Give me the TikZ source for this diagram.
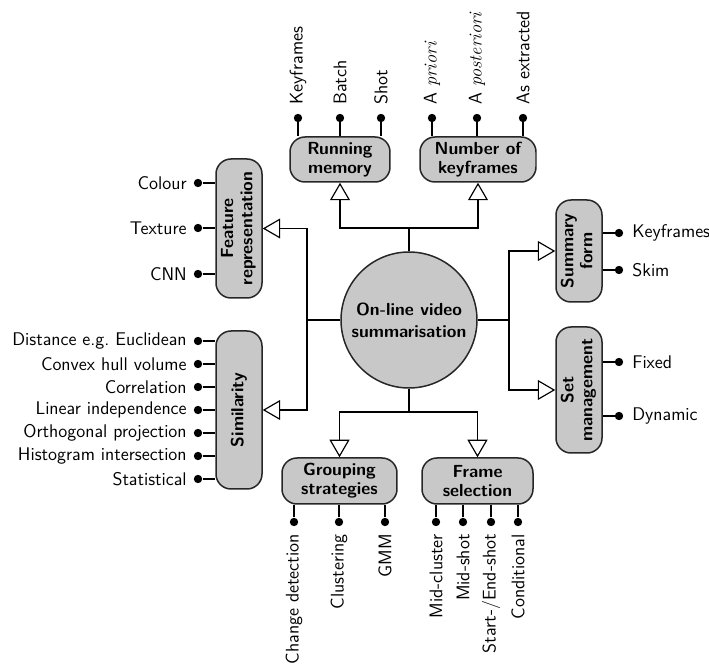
\documentclass[tikz,border=0pt]{standalone}
\usepackage{fontspec}
\usetikzlibrary{arrows.meta,calc}
\definecolor{boxgray}{RGB}{200,200,200}
\begin{document}
\begin{tikzpicture}[x=0.6pt,y=-0.6pt,
  font=\sffamily\fontsize{11}{12}\selectfont,
  box/.style={draw=black!85, line width=0.9pt, fill=boxgray, rounded corners=9pt,
    inner sep=0pt, align=center, font=\sffamily\bfseries\fontsize{10.5}{11.5}\selectfont},
  hub/.style={circle, draw=black!85, line width=0.9pt, fill=boxgray, inner sep=0pt,
    align=center, minimum size=81.6pt, font=\sffamily\bfseries\fontsize{10.5}{13}\selectfont},
  leaf/.style={circle, fill=black, inner sep=0pt, minimum size=5pt},
  wire/.style={line width=0.7pt},
  conn/.style={line width=0.7pt, -{Triangle[open,length=10.5pt,width=12pt,fill=white]}},
  lab/.style={inner sep=0pt}]
\useasboundingbox (0,0) rectangle (709,666);

% hub
\node[hub] (c) at (409,320) {On-line video\\summarisation};

% boxes
\node[box, minimum width=60pt, minimum height=27pt] (rm) at (340,159.5) {Running\\memory};
\node[box, minimum width=69.6pt, minimum height=27pt] (nk) at (478,159.5) {Number of\\keyframes};
\node[box, minimum width=27.6pt, minimum height=83.4pt] (fr) at (239,228.5)
  {\rotatebox{90}{\begin{tabular}{@{}c@{}}Feature\\representation\end{tabular}}};
\node[box, minimum width=27.6pt, minimum height=94.8pt] (sim) at (239,410) {\rotatebox{90}{Similarity}};
\node[box, minimum width=27.6pt, minimum height=61.2pt] (sf) at (579,251)
  {\rotatebox{90}{\begin{tabular}{@{}c@{}}Summary\\form\end{tabular}}};
\node[box, minimum width=27.6pt, minimum height=75.6pt] (sm) at (579,390)
  {\rotatebox{90}{\begin{tabular}{@{}c@{}}Set\\management\end{tabular}}};
\node[box, minimum width=69pt, minimum height=27.6pt] (gs) at (339.5,481) {Grouping\\strategies};
\node[box, minimum width=66.6pt, minimum height=27.6pt] (fs) at (477.5,481) {Frame\\selection};

% connectors from hub
\draw[wire] (c.north) -- (c.north |- 0,228) coordinate (tj);
\draw[conn] (tj) -| (rm.south);
\draw[conn] (tj) -| (nk.south);
\draw[wire] (c.west) -- (307,320) coordinate (lj);
\draw[conn] (lj) |- (fr.east);
\draw[conn] (lj) |- (sim.east);
\draw[wire] (c.east) -- (509,320) coordinate (rj);
\draw[conn] (rj) |- (sf.west);
\draw[conn] (rj) |- (sm.west);
\draw[wire] (c.south) -- (c.south |- 0,412) coordinate (bj);
\draw[conn] (bj) -| (gs.north);
\draw[conn] (bj) -| (fs.north);

% leaves: running memory
\foreach \x/\t [count=\i] in {298/Keyframes,340/Batch,381/Shot}{
  \node[leaf] (rmd\i) at (\x,118) {};
  \draw[wire] (rmd\i) -- (rmd\i |- rm.north);
  \node[lab, rotate=90, anchor=west] (rml\i) at (\x,105) {\t};
}
% leaves: number of keyframes
\foreach \x/\t [count=\i] in {432/{A {\rmfamily\itshape priori}},477/{A {\rmfamily\itshape posteriori}},523/{As extracted}}{
  \node[leaf] (nkd\i) at (\x,118) {};
  \draw[wire] (nkd\i) -- (nkd\i |- nk.north);
  \node[lab, rotate=90, anchor=west] (nkl\i) at (\x,105) {\t};
}
% leaves: feature representation
\foreach \y/\t [count=\i] in {183/Colour,228/Texture,274/CNN}{
  \node[leaf] (frd\i) at (198,\y) {};
  \draw[wire] (frd\i) -- (frd\i -| fr.west);
  \node[lab, anchor=east] (frl\i) at (187,\y) {\t};
}
% leaves: similarity
\foreach \y/\t [count=\i] in {341/{Distance e.g.\ Euclidean},364/{Convex hull volume},387/Correlation,410/{Linear independence},433/{Orthogonal projection},456/{Histogram intersection},479/Statistical}{
  \node[leaf] (simd\i) at (198,\y) {};
  \draw[wire] (simd\i) -- (simd\i -| sim.west);
  \node[lab, anchor=east] (siml\i) at (187,\y) {\t};
}
% leaves: summary form
\foreach \y/\t [count=\i] in {233/Keyframes,270/Skim}{
  \node[leaf] (sfd\i) at (619,\y) {};
  \draw[wire] (sfd\i) -- (sfd\i -| sf.east);
  \node[lab, anchor=west] (sfl\i) at (632,\y) {\t};
}
% leaves: set management
\foreach \y/\t [count=\i] in {362/Fixed,416/Dynamic}{
  \node[leaf] (smd\i) at (619,\y) {};
  \draw[wire] (smd\i) -- (smd\i -| sm.east);
  \node[lab, anchor=west] (sml\i) at (632,\y) {\t};
}
% leaves: grouping strategies
\foreach \x/\t [count=\i] in {294/{Change detection},339/Clustering,385/GMM}{
  \node[leaf] (gsd\i) at (\x,522) {};
  \draw[wire] (gsd\i) -- (gsd\i |- gs.south);
  \node[lab, rotate=90, anchor=east] (gsl\i) at (\x,534) {\t};
}
% leaves: frame selection
\foreach \x/\t [count=\i] in {436/Mid-cluster,463/Mid-shot,491/{Start-/End-shot},518/Conditional}{
  \node[leaf] (fsd\i) at (\x,522) {};
  \draw[wire] (fsd\i) -- (fsd\i |- fs.south);
  \node[lab, rotate=90, anchor=east] (fsl\i) at (\x,534) {\t};
}
\end{tikzpicture}
\end{document}
